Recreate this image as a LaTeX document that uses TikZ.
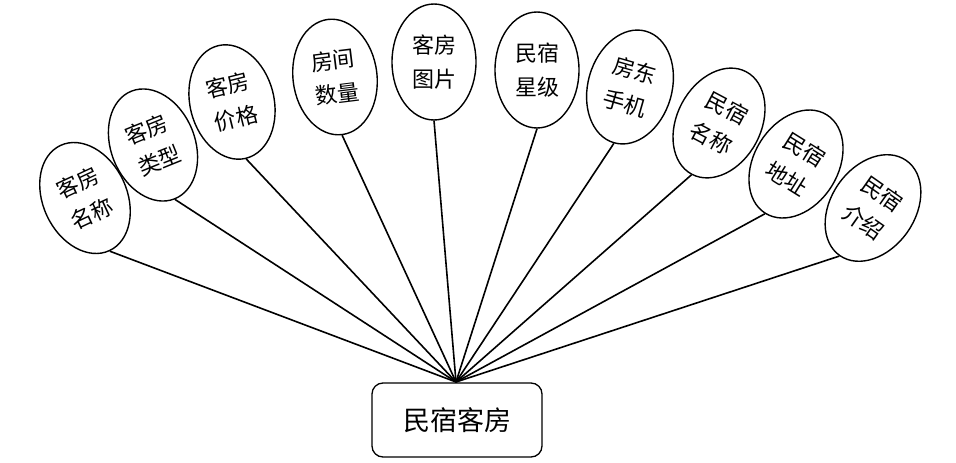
\documentclass[tikz,border=0pt]{standalone}
\usepackage{fontspec}
\newfontfamily\cjk{Noto Sans CJK SC}
\usetikzlibrary{shapes.geometric}
\begin{document}
\begin{tikzpicture}[x=1pt,y=-1pt,
  attr/.style={draw,ellipse,line width=1.4pt,minimum width=84pt,minimum height=116pt,inner sep=0pt,align=center,font=\cjk\fontsize{22}{34}\selectfont},
  ent/.style={draw,rounded corners=11pt,line width=1.3pt,minimum width=170pt,minimum height=74pt,inner sep=0pt,font=\cjk\fontsize{27}{30}\selectfont},
  conn/.style={line width=1.6pt}]
\useasboundingbox (0,0) rectangle (956,463);
\node[ent] (main) at (457,420) {民宿客房};
\coordinate (hub) at (456,382);
\node[attr,rotate=25] (a1) at (85,198) {客房\\名称};
\node[attr,rotate=22] (a2) at (153,145) {客房\\类型};
\node[attr,rotate=14] (a3) at (232,102) {客房\\价格};
\node[attr,rotate=7] (a4) at (335,77) {房间\\数量};
\node[attr] (a5) at (434,62) {客房\\图片};
\node[attr] (a6) at (537,70) {民宿\\星级};
\node[attr,rotate=-16] (a7) at (630,87) {房东\\手机};
\node[attr,rotate=-28] (a8) at (719,123) {民宿\\名称};
\node[attr,rotate=-32] (a9) at (796,164) {民宿\\地址};
\node[attr,rotate=-35] (a10) at (873,208) {民宿\\介绍};
\foreach \n in {a1,a2,a3,a4,a5,a6,a7,a8,a9,a10}
  \draw[conn] (hub) -- (\n.south);
\end{tikzpicture}
\end{document}
